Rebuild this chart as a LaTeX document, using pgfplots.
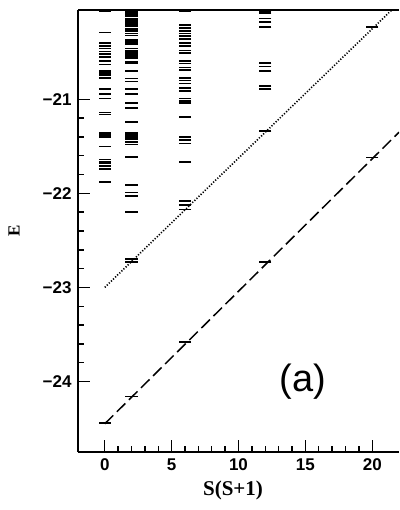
\documentclass[border=0pt]{standalone}
\usepackage{fontspec}
\setmainfont{Liberation Serif}
\newfontfamily\hv{Liberation Sans}
\usepackage{pgfplots}
\usepackage{pgfplotstable}
\pgfplotsset{compat=1.18}

\pgfplotstableread{
x y
0 -20.06
0 -20.29
0 -20.40
0 -20.43
0 -20.46
0 -20.49
0 -20.52
0 -20.55
0 -20.59
0 -20.63
0 -20.70
0 -20.72
0 -20.74
0 -20.77
0 -20.89
0 -20.94
0 -20.99
0 -21.14
0 -21.16
0 -21.36
0 -21.38
0 -21.40
0 -21.50
0 -21.64
0 -21.66
0 -21.68
0 -21.71
0 -21.74
0 -21.88
0 -24.44
}\levelsA

\pgfplotstableread{
x y
2 -20.06
2 -20.08
2 -20.10
2 -20.12
2 -20.14
2 -20.16
2 -20.18
2 -20.20
2 -20.22
2 -20.25
2 -20.27
2 -20.30
2 -20.32
2 -20.37
2 -20.39
2 -20.41
2 -20.46
2 -20.48
2 -20.50
2 -20.52
2 -20.54
2 -20.56
2 -20.60
2 -20.62
2 -20.70
2 -20.78
2 -20.81
2 -20.89
2 -20.94
2 -21.04
2 -21.09
2 -21.24
2 -21.36
2 -21.38
2 -21.40
2 -21.42
2 -21.45
2 -21.48
2 -21.61
2 -21.91
2 -21.99
2 -22.03
2 -22.20
2 -22.70
2 -22.73
2 -24.16
}\levelsB

\pgfplotstableread{
x y
6 -20.06
6 -20.21
6 -20.24
6 -20.27
6 -20.30
6 -20.33
6 -20.36
6 -20.40
6 -20.43
6 -20.48
6 -20.51
6 -20.59
6 -20.62
6 -20.66
6 -20.69
6 -20.77
6 -20.80
6 -20.83
6 -20.88
6 -20.91
6 -20.99
6 -21.02
6 -21.04
6 -21.19
6 -21.40
6 -21.43
6 -21.47
6 -21.67
6 -22.08
6 -22.12
6 -22.17
6 -23.58
}\levelsC

\pgfplotstableread{
x y
12 -20.06
12 -20.08
12 -20.14
12 -20.18
12 -20.23
12 -20.61
12 -20.65
12 -20.70
12 -20.86
12 -20.89
12 -21.34
12 -22.73
20 -20.23
20 -21.62
}\levelsD

\begin{document}
\begin{tikzpicture}
\begin{axis}[
  scale only axis, width=321pt, height=442pt,
  xmin=-2, xmax=22, ymin=-24.75, ymax=-20.05,
  axis x line*=box, axis y line*=left,
  x axis line style={-, line width=1.8pt},
  y axis line style={-, line width=1.8pt},
  xtick pos=bottom, ytick pos=left,
  tick align=inside,
  xtick={0,5,10,15,20}, xticklabels={0,5,10,15,20},
  ytick={-24,-23,-22,-21}, yticklabels={−24,−23,−22,−21},
  minor x tick num=4, minor y tick num=4,
  major tick length=12pt, minor tick length=6pt,
  every tick/.style={black, line width=1.4pt},
  ticklabel style={font=\hv\bfseries\fontsize{17}{17}\selectfont},
  yticklabel style={xshift=-3pt},
  xticklabel style={yshift=-3pt},
  xlabel={S(S+1)},
  every axis x label/.style={font=\bfseries\fontsize{21}{21}\selectfont, at={(axis description cs:0.483,0)}, anchor=north, yshift=-25pt},
  clip=true,
]
\addplot[only marks, mark=-, mark size=6.2pt, mark options={line width=1.7pt}] table[x=x,y=y] {\levelsA};
\addplot[only marks, mark=-, mark size=6.2pt, mark options={line width=1.7pt}] table[x=x,y=y] {\levelsB};
\addplot[only marks, mark=-, mark size=6.2pt, mark options={line width=1.7pt}] table[x=x,y=y] {\levelsC};
\addplot[only marks, mark=-, mark size=6.2pt, mark options={line width=1.7pt}] table[x=x,y=y] {\levelsD};
\addplot[no marks, line width=1.6pt, dash pattern=on 1.2pt off 1.7pt] coordinates {(0,-23.0) (22,-19.975)};
\addplot[no marks, line width=1.5pt, dash pattern=on 12pt off 5pt] coordinates {(0,-24.45) (22,-21.35)};
\node[font=\hv\fontsize{38}{38}\selectfont] at (axis cs:14.8,-24.0) {(a)};
\end{axis}
\node[font=\bfseries\fontsize{17}{17}\selectfont, rotate=90] at ([xshift=-64pt]current axis.west) {E};
\path (current axis.south west) ++(-78pt,-58pt) coordinate (bbA);
\path (current axis.north east) ++(0pt,10pt) coordinate (bbB);
\useasboundingbox (bbA) rectangle (bbB);
\end{tikzpicture}
\end{document}
